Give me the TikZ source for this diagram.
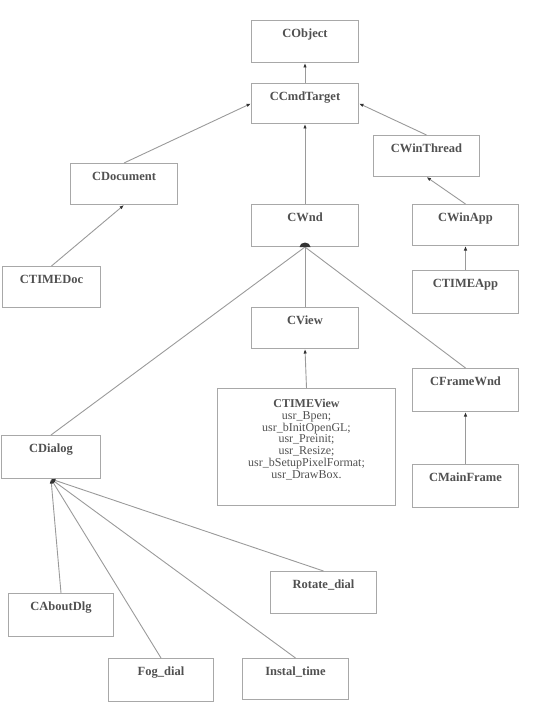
\documentclass[tikz,border=0pt]{standalone}
\usepackage{fontspec}
\setmainfont{Liberation Serif}
\usetikzlibrary{arrows.meta}
\definecolor{boxc}{HTML}{A8A8A8}
\definecolor{linec}{HTML}{9A9A9A}
\definecolor{txtc}{HTML}{505050}
\definecolor{tipc}{HTML}{333333}
\tikzset{
  cls/.style={draw=boxc, line width=1pt, anchor=north west, inner sep=0pt, minimum height=42pt},
  ttl/.style={font=\bfseries\fontsize{12.5}{14}\selectfont, text=txtc, anchor=base, yshift=-17.5pt},
  inh/.style={draw=linec, line width=0.9pt, -{Latex[length=4.5pt,width=3.5pt,color=tipc]}},
  plain/.style={draw=linec, line width=0.9pt}
}
\begin{document}
\begin{tikzpicture}[x=1pt,y=-1pt]
\useasboundingbox (0,0) rectangle (533,727);
% boxes
\node[cls, minimum width=107pt, label={[ttl]north:CObject}] (obj) at (251,20) {};
\node[cls, minimum width=107pt, minimum height=40pt, label={[ttl]north:CCmdTarget}] (cmd) at (251,83) {};
\node[cls, minimum width=106pt, minimum height=41pt, label={[ttl]north:CWinThread}] (thr) at (373,135) {};
\node[cls, minimum width=107pt, minimum height=41pt, label={[ttl]north:CDocument}] (doc) at (70,163) {};
\node[cls, minimum width=98pt, minimum height=41pt, label={[ttl]north:CTIMEDoc}] (tdoc) at (2,266) {};
\node[cls, minimum width=107pt, label={[ttl]north:CWnd}] (wnd) at (251,204) {};
\node[cls, minimum width=106pt, minimum height=41pt, label={[ttl]north:CWinApp}] (app) at (412,204) {};
\node[cls, minimum width=106pt, minimum height=43pt, label={[ttl]north:CTIMEApp}] (tapp) at (412,270) {};
\node[cls, minimum width=107pt, minimum height=41pt, label={[ttl]north:CView}] (view) at (251,307) {};
\node[cls, minimum width=178pt, minimum height=117pt,
  label={[anchor=north, yshift=-8pt, align=center, text=txtc, font=\fontsize{12}{11.7}\selectfont]north:{\textbf{CTIMEView}\\usr\_Bpen;\\usr\_bInitOpenGL;\\usr\_Preinit;\\usr\_Resize;\\usr\_bSetupPixelFormat;\\usr\_DrawBox.}}] (tview) at (217,388) {};
\node[cls, minimum width=106pt, minimum height=43pt, label={[ttl]north:CFrameWnd}] (frame) at (412,368) {};
\node[cls, minimum width=106pt, minimum height=43pt, label={[ttl]north:CMainFrame}] (mframe) at (412,464) {};
\node[cls, minimum width=99pt, minimum height=43pt, label={[ttl]north:CDialog}] (dlg) at (1,435) {};
\node[cls, minimum width=105pt, minimum height=43pt, label={[ttl]north:CAboutDlg}] (about) at (8,593) {};
\node[cls, minimum width=105pt, minimum height=43pt, label={[ttl]north:Fog\_dial}] (fog) at (108,658) {};
\node[cls, minimum width=106pt, minimum height=41pt, label={[ttl]north:Instal\_time}] (inst) at (242,658) {};
\node[cls, minimum width=106pt, minimum height=42pt, label={[ttl]north:Rotate\_dial}] (rot) at (270,571) {};
% connectors
\draw[inh] (cmd.north) -- (obj.south);
\draw[inh] (doc.north) -- (cmd.west);
\draw[inh] (thr.north) -- (cmd.east);
\draw[inh] (wnd.north) -- (cmd.south);
\draw[inh] (tdoc.north) -- (doc.south);
\draw[inh] (app.north) -- (thr.south);
\draw[inh] (tapp.north) -- (app.south);
\draw[plain] (view.north) -- (wnd.south);
\draw[plain] (dlg.north) -- (wnd.south);
\draw[plain] (frame.north) -- (wnd.south);
\fill[tipc] ([xshift=-5.5pt]wnd.south) arc[start angle=180, end angle=0, x radius=5.5pt, y radius=4.5pt] -- cycle;
\draw[inh] (tview.north) -- (view.south);
\draw[inh] (mframe.north) -- (frame.south);
\draw[inh] (about.north) -- (dlg.south);
\draw[inh] (fog.north) -- (dlg.south);
\draw[inh] (inst.north) -- (dlg.south);
\draw[inh] (rot.north) -- (dlg.south);
\end{tikzpicture}
\end{document}
